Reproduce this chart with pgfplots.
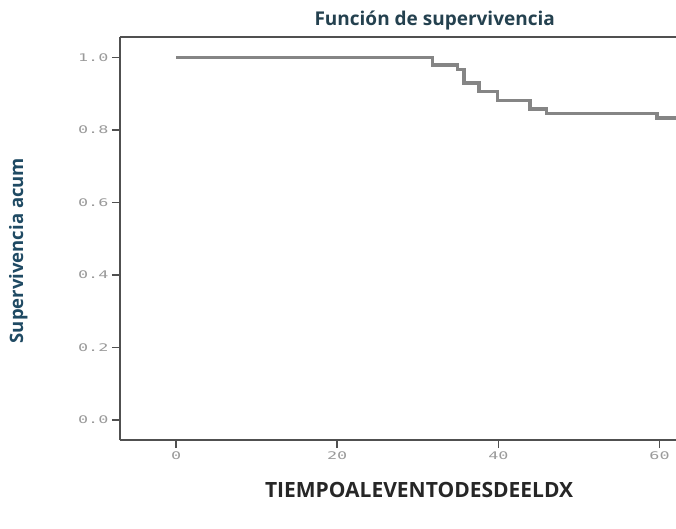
\documentclass[border=0pt]{standalone}
\usepackage{pgfplots}
\pgfplotsset{compat=1.18}
\usepackage{fontspec}
\setmainfont{Open Sans}
\newfontfamily\tickfont{DejaVu Sans Mono}
\definecolor{frame}{HTML}{505050}
\definecolor{curvec}{HTML}{858585}
\definecolor{ttl}{HTML}{24414F}
\definecolor{ylab}{HTML}{1F4A63}
\definecolor{tickc}{HTML}{9A9A9A}
\begin{document}
\begin{tikzpicture}[x=1pt,y=1pt]
\begin{axis}[
 at={(0,0)}, anchor=south west,
 scale only axis, width=556pt, height=403pt,
 xmin=-6.96, xmax=62.04, ymin=-0.055, ymax=1.0566,
 clip=false,
 axis lines=left, axis line style={-, draw=frame, line width=2.2pt},
 xtick={0,20,40,60}, ytick={0,0.2,0.4,0.6,0.8,1.0},
 yticklabel={\scalebox{1.6}[1]{\pgfmathprintnumber[fixed,fixed zerofill,precision=1]{\tick}}},
 xticklabel={\scalebox{1.6}[1]{\pgfmathprintnumber{\tick}}},
 tick style={draw=frame, line width=1.6pt},
 tick align=outside, major tick length=8pt,
 tick label style={font=\tickfont\fontsize{10.5}{12}\selectfont, text=tickc},
 /pgf/number format/assume math mode=true,
]
\addplot[const plot, curvec, line width=3.6pt] coordinates {
 (0,1) (31.8,0.979) (34.9,0.967) (35.75,0.930) (37.6,0.906) (39.9,0.881)
 (43.9,0.858) (45.95,0.846) (59.7,0.834) (62.04,0.834)};
\draw[frame, line width=2.2pt] (rel axis cs:0,1) -- (rel axis cs:1,1);
\node[text=ttl, font=\fontsize{19}{22}\selectfont\bfseries] at (axis description cs:0.566,1.04) {Función de supervivencia};
\node[text=ylab, font=\fontsize{18.5}{22}\selectfont\bfseries, rotate=90] at (axis description cs:-0.183,0.47) {Supervivencia acum};
\node[text=black!85, font=\fontsize{21}{24}\selectfont\bfseries] at (axis description cs:0.538,-0.125) {TIEMPOALEVENTODESDEELDX};
\end{axis}
\pgfresetboundingbox
\useasboundingbox (-120,-88) rectangle (556,440);
\end{tikzpicture}
\end{document}
